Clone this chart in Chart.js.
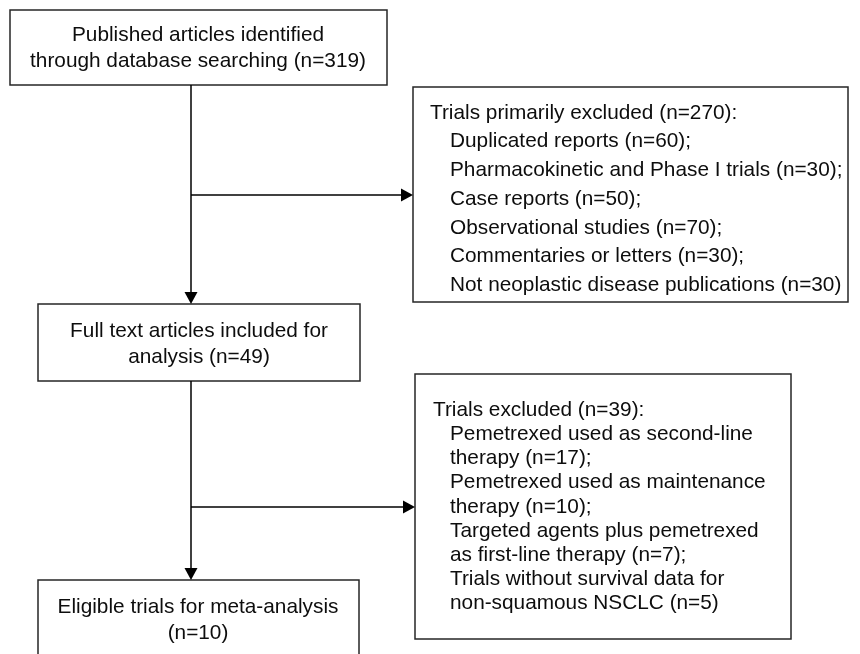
<!DOCTYPE html>
<html>
<head>
<meta charset="utf-8">
<script src="https://cdn.jsdelivr.net/npm/chart.js@4"></script>
<style>
  html, body { margin: 0; padding: 0; background: #fff; }
  #wrap { width: 860px; height: 654px; position: relative; }
</style>
</head>
<body>
<div id="wrap"><canvas id="flowChart"></canvas></div>
<script>
// flow stages (main column)
const stageLines = [
  ['Published articles identified', 'through database searching'],
  ['Full text articles included for', 'analysis'],
  ['Eligible trials for meta-analysis', '']
];
const stageCounts = [319, 49, 10];

// first exclusion step
const excl1Title = 'Trials primarily excluded';
const excl1Reasons = [
  ['Duplicated reports'],
  ['Pharmacokinetic and Phase I trials'],
  ['Case reports'],
  ['Observational studies'],
  ['Commentaries or letters'],
  ['Not neoplastic disease publications']
];
const excl1Counts = [60, 30, 50, 70, 30, 30];

// second exclusion step
const excl2Title = 'Trials excluded';
const excl2Reasons = [
  ['Pemetrexed used as second-line', 'therapy'],
  ['Pemetrexed used as maintenance', 'therapy'],
  ['Targeted agents plus pemetrexed', 'as first-line therapy'],
  ['Trials without survival data for', 'non-squamous NSCLC']
];
const excl2Counts = [17, 10, 7, 5];

// layout in axis units (x 0..860, y 0..654 top-down)
const layout = {
  stageBoxes: [
    { x0: 10, y0: 10, x1: 387, y1: 85, cx: 198, lineY: [35, 61] },
    { x0: 38, y0: 304, x1: 360, y1: 381, cx: 199, lineY: [331, 357] },
    { x0: 38, y0: 580, x1: 359, y1: 700, cx: 198, lineY: [607, 633] }
  ],
  exclBoxes: [
    { x0: 413, y0: 87, x1: 848, y1: 302, tx: 430, ix: 450, y: 113, step: 28.7 },
    { x0: 415, y0: 374, x1: 791, y1: 639, tx: 433, ix: 450, y: 410, step: 24.2 }
  ],
  trunkX: 191,
  branchY: [195, 507]
};

const font = '20.8px "Liberation Sans", Arial, Helvetica, sans-serif';
const sum = arr => arr.reduce((a, b) => a + b, 0);

function stageText(i) {
  const lines = stageLines[i].slice();
  const last = lines.length - 1;
  const tag = `(n=${stageCounts[i]})`;
  lines[last] = lines[last] ? `${lines[last]} ${tag}` : tag;
  return lines;
}

function exclText(title, reasons, counts) {
  const out = [{ text: `${title} (n=${sum(counts)}):`, indent: false }];
  reasons.forEach((r, i) => {
    r.forEach((line, j) => {
      let t = line;
      if (j === r.length - 1) t += ` (n=${counts[i]})` + (i < reasons.length - 1 ? ';' : '');
      out.push({ text: t, indent: true });
    });
  });
  return out;
}

const flowPlugin = {
  id: 'flow',
  afterDraw(chart) {
    const { ctx, scales } = chart;
    const px = v => scales.x.getPixelForValue(v);
    const py = v => scales.y.getPixelForValue(v);
    ctx.save();

    const box = b => {
      ctx.strokeStyle = '#262626';
      ctx.lineWidth = 1.5;
      const x = px(b.x0), y = py(b.y0);
      ctx.strokeRect(x, y, px(b.x1) - x, py(b.y1) - y);
    };
    const line = (x0, y0, x1, y1) => {
      ctx.strokeStyle = '#000';
      ctx.lineWidth = 1.5;
      ctx.beginPath();
      ctx.moveTo(px(x0), py(y0));
      ctx.lineTo(px(x1), py(y1));
      ctx.stroke();
    };
    const head = (x, y, dir) => {
      const L = 12, W = 6.5;
      ctx.fillStyle = '#000';
      ctx.beginPath();
      const X = px(x), Y = py(y);
      if (dir === 'down') {
        ctx.moveTo(X, Y); ctx.lineTo(X - W, Y - L); ctx.lineTo(X + W, Y - L);
      } else {
        ctx.moveTo(X, Y); ctx.lineTo(X - L, Y - W); ctx.lineTo(X - L, Y + W);
      }
      ctx.closePath();
      ctx.fill();
    };

    // boxes
    layout.stageBoxes.forEach(box);
    layout.exclBoxes.forEach(box);

    // connectors
    const sb = layout.stageBoxes;
    const tx = layout.trunkX;
    for (let i = 0; i < 2; i++) {
      line(tx, sb[i].y1, tx, sb[i + 1].y0 - 2);
      head(tx, sb[i + 1].y0, 'down');
      const eb = layout.exclBoxes[i];
      const by = layout.branchY[i];
      line(tx, by, eb.x0 - 2, by);
      head(eb.x0, by, 'right');
    }

    // texts
    ctx.font = font;
    ctx.fillStyle = '#0d0d0d';
    ctx.textBaseline = 'middle';
    ctx.textAlign = 'center';
    sb.forEach((b, i) => {
      stageText(i).forEach((t, j) => ctx.fillText(t, px(b.cx), py(b.lineY[j])));
    });
    ctx.textAlign = 'left';
    const groups = [
      exclText(excl1Title, excl1Reasons, excl1Counts),
      exclText(excl2Title, excl2Reasons, excl2Counts)
    ];
    groups.forEach((g, k) => {
      const b = layout.exclBoxes[k];
      g.forEach((l, j) => {
        ctx.fillText(l.text, px(l.indent ? b.ix : b.tx), py(b.y + j * b.step));
      });
    });
    ctx.restore();
  }
};

new Chart(document.getElementById('flowChart'), {
  type: 'scatter',
  data: { datasets: [{ data: [], pointRadius: 0 }] },
  options: {
    responsive: true,
    maintainAspectRatio: false,
    animation: false,
    layout: { padding: 0 },
    plugins: { legend: { display: false }, tooltip: { enabled: false } },
    scales: {
      x: { type: 'linear', min: 0, max: 860, display: false },
      y: { type: 'linear', min: 0, max: 654, reverse: true, display: false }
    }
  },
  plugins: [flowPlugin]
});
</script>
</body>
</html>
